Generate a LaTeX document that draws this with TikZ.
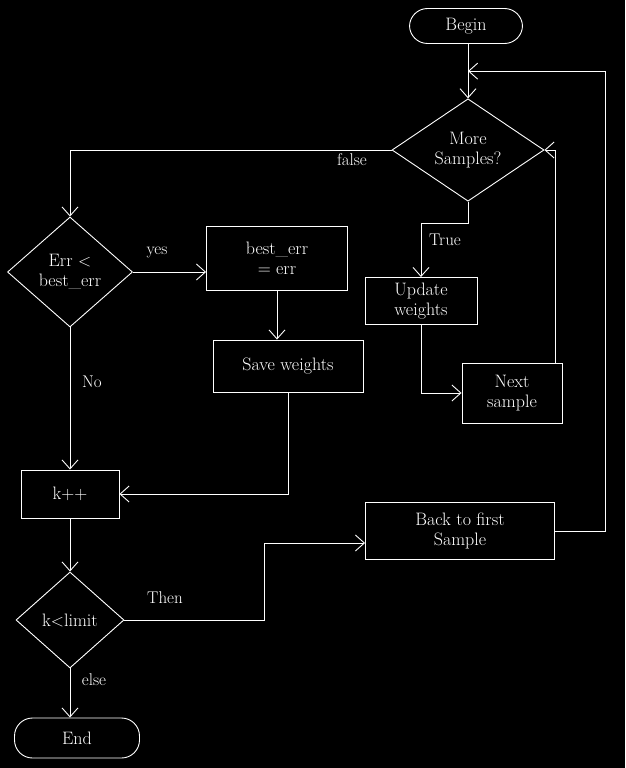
\documentclass[tikz,border=0pt]{standalone}
\usetikzlibrary{shapes.geometric,arrows.meta,calc}
\begin{document}
\begin{tikzpicture}[x=1pt,y=-1pt,line width=0.9pt,draw=white,
  every node/.style={text=white,font=\fontsize{18}{20}\selectfont,align=center,inner sep=0pt},
  proc/.style={draw,rectangle},
  term/.style={draw,rectangle,rounded corners=18pt},
  decide/.style={draw,diamond},
  flow/.style={draw=white,-{Straight Barb[length=9pt,width=16pt]}},
  lbl/.style={font=\fontsize{17}{19}\selectfont}]
  % canvas
  \fill[black] (0,0) rectangle (625,768);
  \useasboundingbox (0,0) rectangle (625,768);

  % nodes
  \node[term,minimum width=113pt,minimum height=35pt] (begin) at (466,26) {Begin};
  \node[decide,minimum width=152pt,minimum height=100pt] (more) at (468,150) {More\\Samples?};
  \node[decide,minimum width=125pt,minimum height=110pt] (errd) at (70,272) {Err $<$\\best\_err};
  \node[proc,minimum width=141pt,minimum height=64pt] (best) at (277,258) {best\_err\\= err};
  \node[proc,minimum width=150pt,minimum height=52pt] (save) at (288,366) {Save weights};
  \node[proc,minimum width=112pt,minimum height=47pt] (upd) at (421,301) {Update\\weights};
  \node[proc,minimum width=100pt,minimum height=60pt] (next) at (512,393) {Next\\sample};
  \node[proc,minimum width=98pt,minimum height=48pt] (kpp) at (70,494) {k++};
  \node[decide,minimum width=108pt,minimum height=96pt] (klim) at (70,620) {k$<$limit};
  \node[proc,minimum width=189pt,minimum height=57pt] (back) at (460,531) {Back to first\\Sample};
  \node[term,minimum width=125pt,minimum height=40pt] (end) at (77,738) {End};

  % junction on the entry line
  \coordinate (join) at ($(more.north)!0.5!(more.north |- begin.south)$);

  % connectors
  \draw[flow] (more.north |- begin.south) -- (more.north);
  \draw[flow] (back.east) -- ++(50,0) |- (join);
  \draw[flow] (more.west) -| (errd.north);
  \draw[flow] (more.south) -- ++(0,22) -| (upd.north);
  \draw[flow] (upd.south) |- (next.west);
  \draw[flow] ([xshift=43pt]next.north) |- (more.east);
  \draw[flow] (errd.east) -- (errd.east -| best.west);
  \draw[flow] (best.south) -- (best.south |- save.north);
  \draw[flow] (save.south) |- (kpp.east);
  \draw[flow] (errd.south) -- (errd.south |- kpp.north);
  \draw[flow] (kpp.south) -- (klim.north);
  \draw[flow] (klim.east) -- ++(140,0) |- ([yshift=-12pt]back.west);
  \draw[flow] (klim.south) -- (klim.south |- end.north);

  % branch labels
  \node[lbl] (lfalse) at (352,160) {false};
  \node[lbl] (ltrue) at (445,240) {True};
  \node[lbl] (lyes) at (157,252) {yes};
  \node[lbl] (lno) at (92,382) {No};
  \node[lbl] (lthen) at (165,598) {Then};
  \node[lbl] (lelse) at (94,680) {else};
\end{tikzpicture}
\end{document}
